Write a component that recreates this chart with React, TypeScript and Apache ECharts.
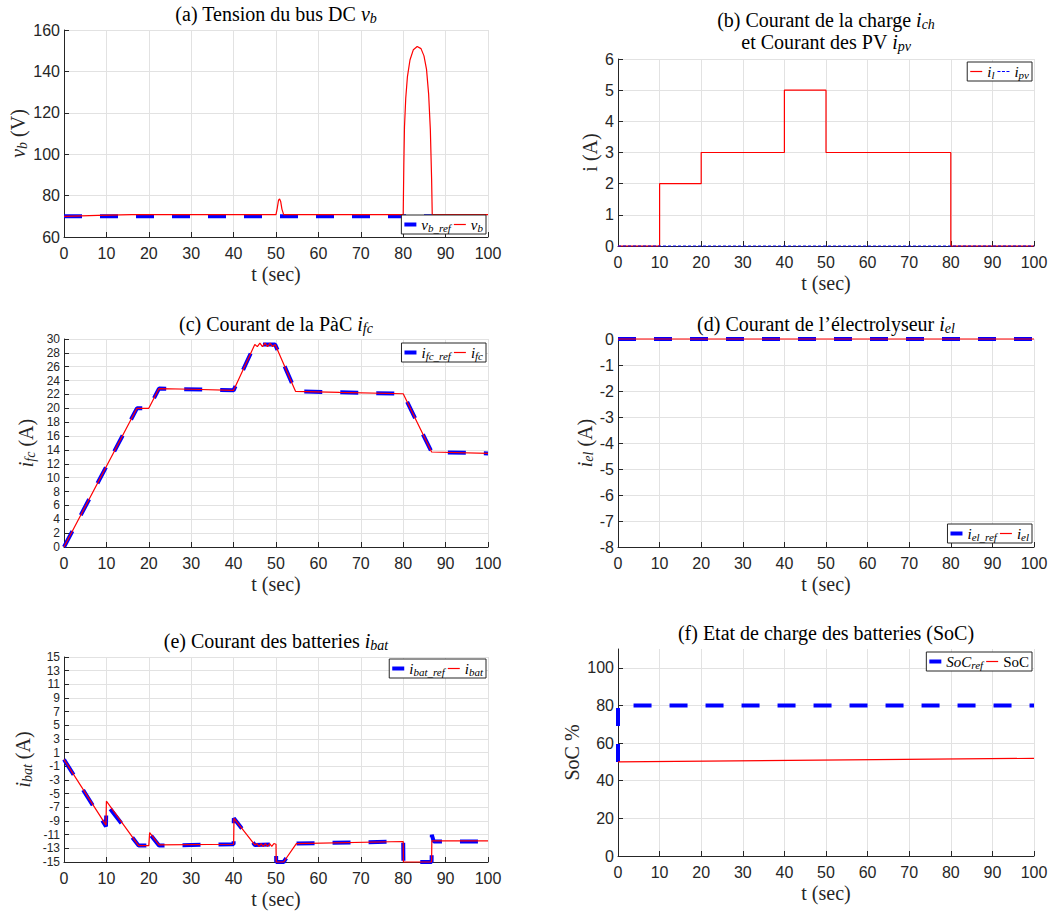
import React, { useEffect, useRef } from 'react';
import * as echarts from 'echarts';

// ---------------- data ----------------
// (a) DC bus voltage v_b (V)
const vbRef: number[][] = [[0, 70], [100, 70]];
const vb: number[][] = [
  [0, 70.0], [8, 70.4], [16, 70.8], [50.0, 70.8], [50.3, 74], [50.6, 77.8], [50.85, 78.4], [51.1, 77.2],
  [51.4, 73.5], [51.8, 70.8], [80.0, 70.8], [80.15, 95], [80.3, 113], [80.6, 127], [81.0, 137.5],
  [81.6, 145.5], [82.4, 150.5], [83.3, 152], [84.2, 151], [84.9, 147.5], [85.5, 141], [86.0, 129],
  [86.4, 112], [86.7, 88], [86.85, 70.8], [100, 70.8],
];

// (b) load current i_l and PV current i_pv (A) — step values
const ilSteps: number[][] = [[0, 0], [10, 2], [20, 3], [40, 5], [50, 3], [80, 0], [100, 0]];
const ipv: number[][] = [[0, 0], [100, 0]];

// (c) fuel cell current (A)
const ifcRef: number[][] = [
  [0, 0], [17.2, 20], [20, 20], [22.4, 22.85], [40, 22.6], [45, 29.2], [49.8, 29.2],
  [54.6, 22.45], [80, 22.1], [86.7, 13.7], [100, 13.5],
];
const ifc: number[][] = [
  [0, 0], [17.2, 20], [20, 20], [22.4, 22.85], [30, 22.75], [40, 22.6], [45, 29.2], [45.6, 28.9],
  [46.2, 29.4], [46.8, 28.9], [47.4, 29.4], [48.0, 28.9], [48.6, 29.4], [49.2, 28.9], [49.8, 29.2],
  [54.6, 22.45], [65, 22.3], [80, 22.1], [86.7, 13.7], [100, 13.5],
];

// (d) electrolyser current (A)
const ielRef: number[][] = [[0, 0], [100, 0]];
const iel: number[][] = [[0, 0], [100, 0]];

// (e) battery current (A)
const ibatRef: number[][] = [
  [0, 0], [9.9, -9.8], [10, -6.5], [17.6, -12.6], [20, -12.6], [20.1, -10.8], [22.4, -12.6],
  [40, -12.4], [40.05, -8.6], [45, -12.5], [50, -12.4], [50.05, -15], [51.8, -15], [54.8, -12.3],
  [80, -12.0], [80.05, -15], [86.7, -15], [86.75, -11.0], [87.2, -12.0], [100, -12.0],
];
const ibat: number[][] = [
  [0, 0], [9.9, -9.6], [10.0, -6.1], [17.6, -12.6], [20.0, -12.6], [20.2, -10.7], [22.4, -12.5],
  [40.0, -12.4], [40.1, -8.6], [45.0, -12.5], [45.5, -12.3], [46, -12.7], [46.5, -12.3], [47, -12.7],
  [47.5, -12.3], [48, -12.7], [48.5, -12.3], [49, -12.7], [49.5, -12.3], [50.0, -12.4], [50.05, -15],
  [51.8, -15], [54.8, -12.3], [80, -12.0], [80.05, -15], [86.7, -15], [86.75, -11.9], [100, -11.9],
];

// (f) state of charge (%)
const socRef: number[][] = [[0, 50], [0, 80], [100, 80]];
const soc: number[][] = [[0, 50], [100, 51.9]];

// axis ranges
const xRange = { min: 0, max: 100, interval: 10 };
const yRanges = [
  { min: 60, max: 160, interval: 20 },
  { min: 0, max: 6, interval: 1 },
  { min: 0, max: 30, interval: 2 },
  { min: -8, max: 0, interval: 1 },
  { min: -15, max: 15, interval: 2 },
  { min: 0, max: 110, interval: 20 },
];

// texts
const titles = [
  '(a) Tension du bus DC {m|v}{s|b}',
  '(b) Courant de la charge {m|i}{s|ch}\net Courant des PV {m|i}{s|pv}',
  '(c) Courant de la PàC {m|i}{s|fc}',
  '(d) Courant de l’électrolyseur {m|i}{s|el}',
  '(e) Courant des batteries {m|i}{s|bat}',
  '(f) Etat de charge des batteries (SoC)',
];
const yNames = [
  '{m|v}{s|b} (V)',
  'i (A)',
  '{m|i}{s|fc} (A)',
  '{m|i}{s|el} (A)',
  '{m|i}{s|bat} (A)',
  'SoC %',
];
const xName = 't (sec)';
const legendLabels: Record<string, string> = {
  v_b_ref: '{m|v}{s|b_ref}',
  v_b: '{m|v}{s|b}',
  i_l: '{m|i}{s|l}',
  i_pv: '{m|i}{s|pv}',
  i_fc_ref: '{m|i}{s|fc_ref}',
  i_fc: '{m|i}{s|fc}',
  i_el_ref: '{m|i}{s|el_ref}',
  i_el: '{m|i}{s|el}',
  i_bat_ref: '{m|i}{s|bat_ref}',
  i_bat: '{m|i}{s|bat}',
  SoC_ref: '{m|SoC}{s|ref}',
  SoC: 'SoC',
};

// ---------------- styling ----------------
const SERIF = '"Liberation Serif", "Times New Roman", serif';
const SANS = '"Liberation Sans", Arial, Helvetica, sans-serif';
const BLUE = '#0000ff';
const RED = '#ff0000';
const AX = '#262626';
const GRIDC = '#e2e2e2';

const grids = [
  { left: 64, top: 30, width: 424, height: 207 },
  { left: 618, top: 59, width: 416, height: 187 },
  { left: 64, top: 339, width: 424, height: 208 },
  { left: 618, top: 339, width: 416, height: 208 },
  { left: 64, top: 657, width: 424, height: 207 },
  { left: 618, top: 649, width: 416, height: 207 },
];
const titlePos = [
  { x: 276, y: 3 },
  { x: 826, y: 9 },
  { x: 276, y: 313 },
  { x: 826, y: 313 },
  { x: 276, y: 630 },
  { x: 826, y: 622 },
];
const yNameGaps = [31, 16, 27, 21, 30, 35];
const yLabelSizes = [16, 16, 12, 16, 12, 16];
const legendPos = [
  { right: 577, top: 215 },
  { right: 31, top: 62 },
  { right: 577, top: 343 },
  { right: 31, top: 524 },
  { right: 577, top: 659 },
  { right: 31, top: 652 },
];

const bigRich = {
  m: { fontFamily: SERIF, fontSize: 20, fontStyle: 'italic', lineHeight: 22, color: '#000' },
  s: { fontFamily: SERIF, fontSize: 14, fontStyle: 'italic', lineHeight: 11, verticalAlign: 'bottom', color: '#000' },
};
const axRich = {
  m: { fontFamily: SERIF, fontSize: 20, fontStyle: 'italic', lineHeight: 22, color: AX },
  s: { fontFamily: SERIF, fontSize: 14, fontStyle: 'italic', lineHeight: 11, verticalAlign: 'bottom', color: AX },
};
const legRich = {
  m: { fontFamily: SERIF, fontSize: 15, fontStyle: 'italic', lineHeight: 17, color: '#000' },
  s: { fontFamily: SERIF, fontSize: 11, fontStyle: 'italic', lineHeight: 8, verticalAlign: 'bottom', color: '#000' },
};

const BAR_ICON = 'path://M0,0H12V4H0Z';
const LINE_ICON = 'path://M0,0H12V1.2H0Z';
const DASH_ICON = 'path://M0,0H3V1.2H0ZM4.5,0H7.5V1.2H4.5ZM9,0H12V1.2H9Z';

function buildOption() {
  const title = titles.map((t, i) => ({
    text: t,
    left: titlePos[i].x,
    top: titlePos[i].y,
    textAlign: 'center',
    padding: 0,
    textStyle: {
      fontFamily: SERIF,
      fontSize: 20,
      fontWeight: 'normal',
      color: '#000',
      lineHeight: 22,
      rich: bigRich,
    },
  }));

  const xAxis = grids.map((_, i) => ({
    gridIndex: i,
    type: 'value',
    ...xRange,
    name: xName,
    nameLocation: 'middle',
    nameGap: 26,
    nameTextStyle: { fontFamily: SERIF, fontSize: 20, color: AX, lineHeight: 22 },
    axisLine: { show: true, onZero: false, lineStyle: { color: AX, width: 1 } },
    axisTick: { show: true, inside: true, length: 5, lineStyle: { color: AX, width: 1 } },
    axisLabel: { fontFamily: SANS, fontSize: 16, color: AX, margin: 8, showMinLabel: true, showMaxLabel: true },
    splitLine: { show: true, lineStyle: { color: GRIDC, width: 1 } },
  }));

  const yAxis = grids.map((_, i) => ({
    gridIndex: i,
    type: 'value',
    ...yRanges[i],
    name: yNames[i],
    nameLocation: 'middle',
    nameRotate: 90,
    nameGap: yNameGaps[i],
    nameTextStyle: { fontFamily: SERIF, fontSize: 20, color: AX, lineHeight: 22, rich: axRich },
    axisLine: { show: true, onZero: false, lineStyle: { color: AX, width: 1 } },
    axisTick: { show: true, inside: true, length: 5, lineStyle: { color: AX, width: 1 } },
    axisLabel: {
      fontFamily: SANS,
      fontSize: yLabelSizes[i],
      color: AX,
      margin: 4,
      showMinLabel: true,
      showMaxLabel: i !== 5,
      formatter: (v: number) => (i === 5 && v > 100 ? '' : String(v)),
    },
    splitLine: { show: true, showMaxLine: i !== 5, lineStyle: { color: GRIDC, width: 1 } },
  }));

  const refSeries = (name: string, data: number[][], gi: number) => ({
    type: 'line',
    name,
    xAxisIndex: gi,
    yAxisIndex: gi,
    data,
    symbol: 'none',
    showSymbol: false,
    clip: false,
    silent: true,
    color: BLUE,
    lineStyle: { color: BLUE, width: 4, type: [18, 18] },
    z: 2,
  });
  const actSeries = (name: string, data: number[][], gi: number, extra: any = {}) => ({
    type: 'line',
    name,
    xAxisIndex: gi,
    yAxisIndex: gi,
    data,
    symbol: 'none',
    showSymbol: false,
    clip: false,
    silent: true,
    color: RED,
    lineStyle: { color: RED, width: 1.2 },
    z: 3,
    ...extra,
  });

  const series = [
    refSeries('v_b_ref', vbRef, 0),
    actSeries('v_b', vb, 0),
    actSeries('i_l', ilSteps, 1, { step: 'end' }),
    {
      type: 'line',
      name: 'i_pv',
      xAxisIndex: 1,
      yAxisIndex: 1,
      data: ipv,
      symbol: 'none',
      showSymbol: false,
      clip: false,
      silent: true,
      color: BLUE,
      lineStyle: { color: BLUE, width: 1, type: [3, 2] },
      z: 4,
    },
    refSeries('i_fc_ref', ifcRef, 2),
    actSeries('i_fc', ifc, 2),
    refSeries('i_el_ref', ielRef, 3),
    actSeries('i_el', iel, 3),
    refSeries('i_bat_ref', ibatRef, 4),
    actSeries('i_bat', ibat, 4),
    refSeries('SoC_ref', socRef, 5),
    actSeries('SoC', soc, 5),
  ];

  const legendPairs: [string, string, string, string][] = [
    ['v_b_ref', 'v_b', BAR_ICON, LINE_ICON],
    ['i_l', 'i_pv', LINE_ICON, DASH_ICON],
    ['i_fc_ref', 'i_fc', BAR_ICON, LINE_ICON],
    ['i_el_ref', 'i_el', BAR_ICON, LINE_ICON],
    ['i_bat_ref', 'i_bat', BAR_ICON, LINE_ICON],
    ['SoC_ref', 'SoC', BAR_ICON, LINE_ICON],
  ];
  const colorOf = (n: string) =>
    n.endsWith('_ref') || n === 'i_pv' ? BLUE : RED;

  const legend = legendPairs.map((p, i) => ({
    ...legendPos[i],
    orient: 'horizontal',
    selectedMode: false,
    backgroundColor: '#fff',
    borderColor: AX,
    borderWidth: 1,
    borderRadius: 0,
    padding: [1, 3],
    itemGap: 3,
    itemWidth: 12,
    itemHeight: 12,
    symbolKeepAspect: true,
    data: [
      { name: p[0], icon: p[2], itemStyle: { color: colorOf(p[0]), borderWidth: 0 } },
      { name: p[1], icon: p[3], itemStyle: { color: colorOf(p[1]), borderWidth: 0 } },
    ],
    formatter: (name: string) => legendLabels[name] ?? name,
    textStyle: {
      fontFamily: SERIF,
      fontSize: 15,
      color: '#000',
      lineHeight: 17,
      rich: legRich,
    },
    z: 10,
  }));

  return {
    animation: false,
    backgroundColor: '#ffffff',
    title,
    legend,
    grid: grids,
    xAxis,
    yAxis,
    series,
  };
}

export default function App() {
  const ref = useRef<HTMLDivElement>(null);
  useEffect(() => {
    if (!ref.current) return;
    const chart = echarts.init(ref.current, null, { renderer: 'svg' });
    chart.setOption(buildOption() as any);
    return () => chart.dispose();
  }, []);
  return (
    <div
      ref={ref}
      style={{ position: 'absolute', left: 0, top: 0, width: 1063, height: 911, background: '#fff' }}
    />
  );
}
